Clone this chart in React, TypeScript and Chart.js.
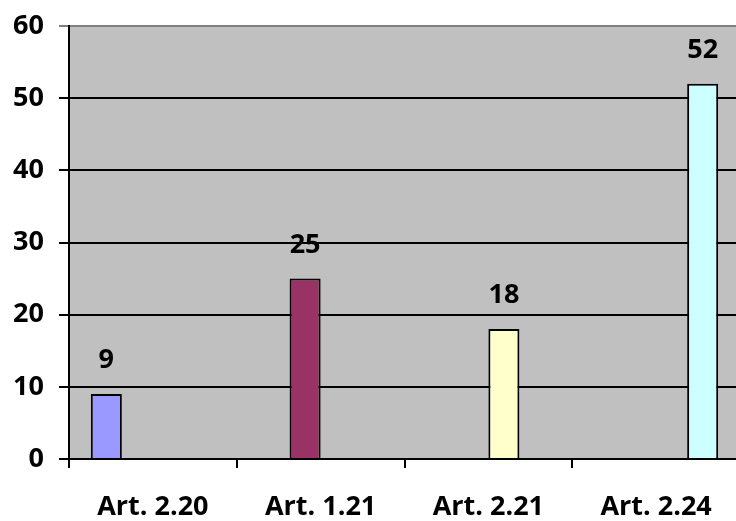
import React, { useEffect, useRef } from "react";
import { Chart, registerables } from "chart.js";

Chart.register(...registerables);

const categories = ["Art. 2.20", "Art. 1.21", "Art. 2.21", "Art. 2.24"];
const values = [9, 25, 18, 52];
const barColors = ["#9999FF", "#993366", "#FFFFCC", "#CCFFFF"];
const yTicks = [0, 10, 20, 30, 40, 50, 60];

const FONT = "'Open Sans', 'Liberation Sans', sans-serif";
const FONT_SIZE = 27;

const bgPlugin = {
  id: "plotBg",
  beforeDraw(chart: any) {
    const { ctx, chartArea } = chart;
    ctx.save();
    ctx.fillStyle = "#C0C0C0";
    ctx.fillRect(chartArea.left, chartArea.top, chartArea.right - chartArea.left, chartArea.bottom - chartArea.top);
    ctx.restore();
  },
};

const labelPlugin = {
  id: "barLabels",
  afterDatasetsDraw(chart: any) {
    const { ctx } = chart;
    ctx.save();
    ctx.font = `bold ${FONT_SIZE}px ${FONT}`;
    ctx.fillStyle = "#000";
    ctx.textAlign = "center";
    ctx.textBaseline = "alphabetic";
    chart.data.datasets.forEach((ds: any, di: number) => {
      const meta = chart.getDatasetMeta(di);
      meta.data.forEach((el: any, i: number) => {
        const v = ds.data[i];
        if (v === null || v === undefined) return;
        ctx.fillText(String(v), el.x, el.y - 26);
      });
    });
    ctx.restore();
  },
};

export default function App() {
  const ref = useRef<HTMLCanvasElement>(null);
  useEffect(() => {
    if (!ref.current) return;
    const datasets = categories.map((c, i) => ({
      label: c,
      data: categories.map((_, j) => (j === i ? values[i] : null)),
      backgroundColor: barColors[i],
      borderColor: "#000",
      borderWidth: 2,
      barPercentage: 1,
      categoryPercentage: 0.74,
    }));
    const chart = new Chart(ref.current, {
      type: "bar",
      data: { labels: categories, datasets },
      options: {
        responsive: false,
        animation: false,
        layout: { padding: { top: 26, right: 2, left: 0, bottom: 0 } },
        plugins: { legend: { display: false }, tooltip: { enabled: false } },
        scales: {
          x: {
            grid: {
              offset: true,
              drawOnChartArea: false,
              drawTicks: true,
              tickLength: 9,
              color: "#000",
              lineWidth: 2,
            },
            border: { display: true, color: "#000", width: 2 },
            ticks: {
              color: "#000",
              font: { family: FONT, size: FONT_SIZE, weight: "bold" },
              padding: 23,
              maxRotation: 0,
            },
            afterFit(scale: any) {
              scale.height = 62;
              scale.paddingLeft = 0;
              scale.paddingRight = 0;
            },
          },
          y: {
            min: 0,
            max: 60,
            afterBuildTicks(scale: any) {
              scale.ticks = yTicks.map((v) => ({ value: v }));
            },
            grid: {
              color: (c: any) => (c.tick && c.tick.value === 60 ? "#808080" : "#000"),
              lineWidth: 2,
              drawTicks: true,
              tickLength: 10,
            },
            border: { display: true, color: "#000", width: 2 },
            ticks: {
              color: "#000",
              font: { family: FONT, size: FONT_SIZE, weight: "bold" },
              padding: 15,
            },
            afterFit(scale: any) {
              scale.width = 69;
              scale.paddingTop = 0;
              scale.paddingBottom = 0;
            },
          },
        },
      },
      plugins: [bgPlugin, labelPlugin],
    });
    return () => chart.destroy();
  }, []);
  return (
    <div style={{ position: "absolute", left: 0, top: 0, width: 736, height: 521, overflow: "hidden", background: "#fff" }}>
      <canvas ref={ref} width={742} height={521} style={{ display: "block" }} />
    </div>
  );
}
